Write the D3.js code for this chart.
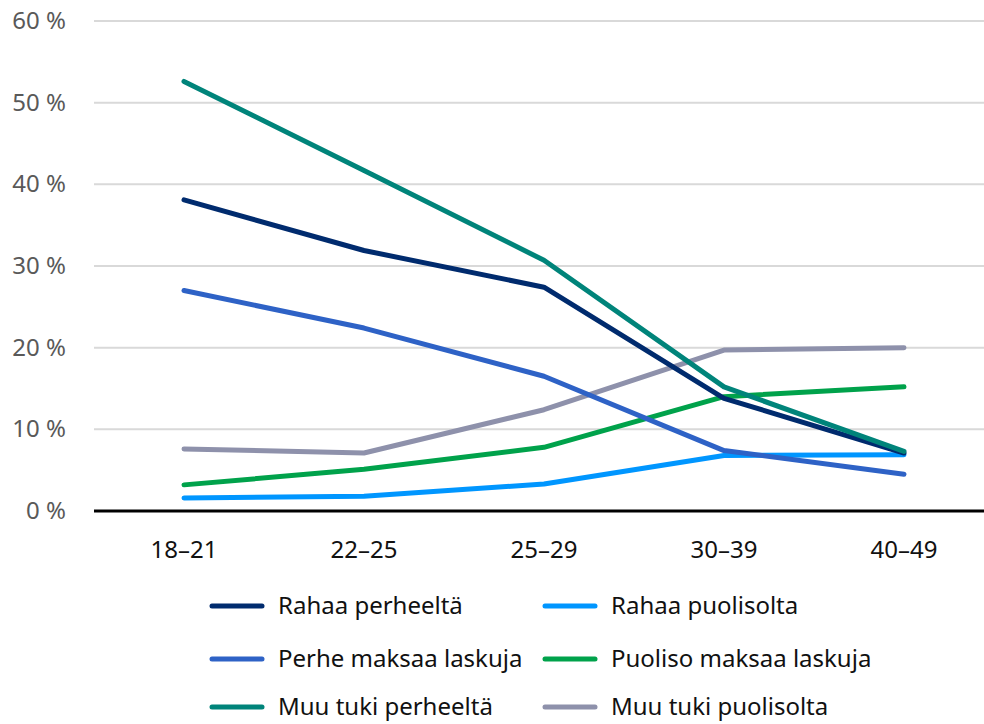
<html>
<head>
<script src="https://cdn.jsdelivr.net/npm/d3@7/dist/d3.min.js"></script>
<style>
body { margin: 0; background: #fff; }
text { font-family: "Noto Sans", sans-serif; font-stretch: semi-condensed; }
</style>
</head>
<body>
<svg id="chart" width="984" height="724"></svg>
<script>
var ages = ["18–21", "22–25", "25–29", "30–39", "40–49"];
var names = ["Rahaa perheeltä", "Rahaa puolisolta", "Perhe maksaa laskuja", "Puoliso maksaa laskuja", "Muu tuki perheeltä", "Muu tuki puolisolta"];
var colors = ["#002b6e", "#0096ff", "#2e62c6", "#00a24b", "#00847a", "#8e91ab"];
var rahaaPerheelta = [38.1, 31.9, 27.4, 13.8, 7.1];
var rahaaPuolisolta = [1.6, 1.8, 3.3, 6.8, 6.9];
var perheMaksaa = [27.0, 22.4, 16.5, 7.4, 4.5];
var puolisoMaksaa = [3.2, 5.1, 7.8, 14.0, 15.2];
var muuTukiPerheelta = [52.6, 41.7, 30.7, 15.2, 7.3];
var muuTukiPuolisolta = [7.6, 7.1, 12.4, 19.7, 20.0];
var yTicks = [0, 10, 20, 30, 40, 50, 60];

var series = [rahaaPerheelta, rahaaPuolisolta, perheMaksaa, puolisoMaksaa, muuTukiPerheelta, muuTukiPuolisolta];
// draw order: bottom first
var drawOrder = [1, 3, 5, 2, 0, 4];

var svg = d3.select("#chart");
var x = d3.scalePoint().domain(ages).range([184, 904]);
var y = d3.scaleLinear().domain([0, 60]).range([511, 21]);

svg.append("g").selectAll("line").data(yTicks.slice(1)).enter().append("line")
    .attr("x1", 94).attr("x2", 984)
    .attr("y1", d => y(d)).attr("y2", d => y(d))
    .style("stroke", "#d9d9d9").style("stroke-width", 2);

svg.append("g").selectAll("text").data(yTicks).enter().append("text")
    .attr("x", 66).attr("y", d => y(d) + 8)
    .attr("text-anchor", "end")
    .style("font-size", "24px").style("fill", "#595959")
    .text(d => d + " %");

svg.append("line").attr("x1", 94).attr("x2", 984).attr("y1", y(0)).attr("y2", y(0))
    .style("stroke", "#000").style("stroke-width", 3);

svg.append("g").selectAll("text").data(ages).enter().append("text")
    .attr("x", d => x(d)).attr("y", 558)
    .attr("text-anchor", "middle")
    .style("font-size", "24px").style("fill", "#111")
    .text(d => d);

var line = d3.line().x((d, i) => x(ages[i])).y(d => y(d));
svg.append("g").selectAll("path").data(drawOrder).enter().append("path")
    .attr("d", i => line(series[i]))
    .style("fill", "none").style("stroke", i => colors[i])
    .style("stroke-width", 5).style("stroke-linecap", "round").style("stroke-linejoin", "round");

var leg = svg.append("g").selectAll("g").data(names).enter().append("g")
    .attr("transform", (d, i) => "translate(" + (i % 2 ? 545 : 212) + "," + [606, 659, 707][Math.floor(i / 2)] + ")");
leg.append("line").attr("x1", 0).attr("x2", 50)
    .style("stroke", (d, i) => colors[i]).style("stroke-width", 5).style("stroke-linecap", "round");
leg.append("text").attr("x", 66).attr("y", 8)
    .style("font-size", "24px").style("fill", "#111")
    .text(d => d);
</script>
</body>
</html>
